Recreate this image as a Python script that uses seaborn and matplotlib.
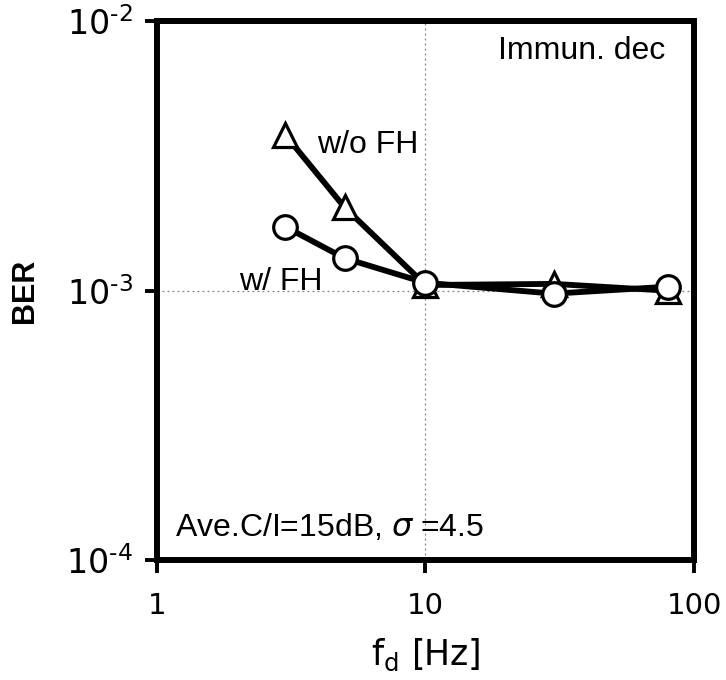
import matplotlib
matplotlib.use("Agg")
import matplotlib.pyplot as plt
import seaborn as sns
import pandas as pd
from matplotlib.ticker import NullLocator

# data
fd = [3, 5, 10, 30, 80]
ber_wo_fh = [3.8e-3, 2.04e-3, 1.05e-3, 1.06e-3, 1.0e-3]
ber_w_fh = [1.73e-3, 1.32e-3, 1.07e-3, 0.975e-3, 1.035e-3]
xticks = [1, 10, 100]
xticklabels = ["1", "10", "100"]
yticks = [1e-4, 1e-3, 1e-2]
yticklabels = ["$\\mathregular{10^{\u20104}}$", "$\\mathregular{10^{\u20103}}$", "$\\mathregular{10^{\u20102}}$"]

sns.set_theme(style="white")
plt.rcParams['font.family'] = ['Liberation Sans', 'DejaVu Sans']
plt.rcParams['text.color'] = 'black'
plt.rcParams['axes.labelcolor'] = 'black'
plt.rcParams['mathtext.fontset'] = 'dejavusans'

fig = plt.figure(figsize=(7.26, 6.8), dpi=100)
ax = fig.add_axes([0.216, 0.1765, 0.74, 0.792])

df_wo = pd.DataFrame({"fd": fd, "BER": ber_wo_fh})
df_w = pd.DataFrame({"fd": fd, "BER": ber_w_fh})

sns.lineplot(data=df_wo, x="fd", y="BER", ax=ax, color="black", lw=4.2,
             marker="^", markersize=17, markerfacecolor="white",
             markeredgecolor="black", markeredgewidth=2.3, zorder=3)
sns.lineplot(data=df_w, x="fd", y="BER", ax=ax, color="black", lw=4.2,
             marker="o", markersize=17, markerfacecolor="white",
             markeredgecolor="black", markeredgewidth=2.3, zorder=4)

ax.set_xscale("log")
ax.set_yscale("log")
ax.set_xlim(1, 100)
ax.set_ylim(1e-4, 1e-2)

ax.tick_params(axis="both", which="major", direction="out", length=9, width=2.8,
               color="black", labelcolor="black", bottom=True, left=True)
ax.tick_params(axis="x", pad=14)
ax.tick_params(axis="y", pad=8)
ax.set_xticks(xticks, labels=xticklabels, fontsize=21, family="DejaVu Sans")
ax.set_yticks(yticks, labels=yticklabels, fontsize=24, family="DejaVu Sans")
ax.xaxis.set_minor_locator(NullLocator())
ax.yaxis.set_minor_locator(NullLocator())

for s in ax.spines.values():
    s.set_linewidth(4.3)
    s.set_color("black")

ax.grid(False)
ax.axvline(10, color="gray", lw=0.9, ls=(0, (1.5, 2.5)), zorder=1)
ax.axhline(1e-3, color="gray", lw=0.9, ls=(0, (1.5, 2.5)), zorder=1)

ax.set_xlabel(r"$\mathregular{f_d}$ [Hz]", fontsize=25, family="DejaVu Sans")
ax.xaxis.label.set_va("baseline")
ax.xaxis.set_label_coords(0.5, -0.195)
ax.set_ylabel("BER", fontsize=22, fontweight="bold")
ax.yaxis.label.set_va("center")
ax.yaxis.set_label_coords(-0.245, 0.5)

ax.text(0.946, 0.972, "Immun. dec", transform=ax.transAxes, ha="right", va="top", fontsize=23)
ax.text(3.94, 3.49e-3, "w/o FH", ha="left", va="center", fontsize=23)
ax.text(4.15, 1.08e-3, "w/ FH", ha="right", va="center", fontsize=23)
ax.text(0.033, 0.032, r"Ave.C/I=15dB, $\sigma$ =4.5", transform=ax.transAxes,
        ha="left", va="bottom", fontsize=23)

fig.savefig("out.png", dpi=100)
